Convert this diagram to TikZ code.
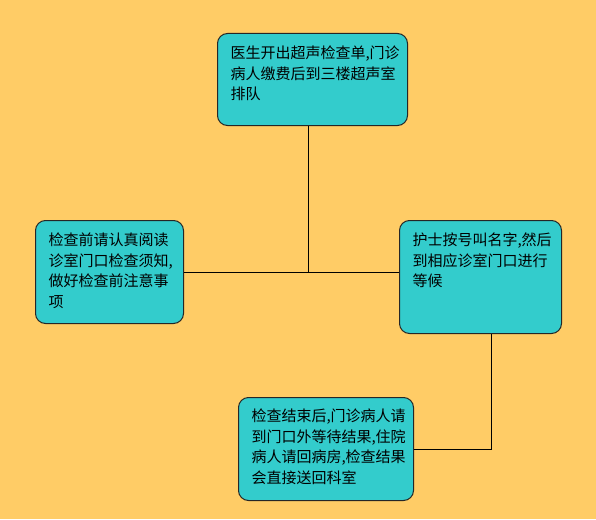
\documentclass[tikz,border=0pt]{standalone}
\usepackage{fontspec}
\newfontfamily\cjk{Noto Sans CJK SC}
\usetikzlibrary{positioning}

\definecolor{bgorange}{HTML}{FFCC66}
\definecolor{boxteal}{HTML}{33CCCC}

% step text inside a box: width, height, lines (top aligned)
\newcommand{\steptext}[3]{\parbox[c][#2][t]{#1}{\raggedright\cjk\fontsize{15pt}{20.8pt}\selectfont #3}}

\tikzset{
  stepbox/.style={draw=black!85, line width=1pt, fill=boxteal, rounded corners=10pt,
    inner xsep=13pt, inner ysep=12pt, anchor=north west},
  link/.style={draw=black, line width=1pt}
}

\begin{document}
\begin{tikzpicture}[x=1pt, y=-1pt]

  % Background
  \fill[bgorange] (0,0) rectangle (596,519);

  % Steps
  \node[stepbox] (order) at (217,33)
    {\steptext{164pt}{68pt}{医生开出超声检查单,门诊\\病人缴费后到三楼超声室\\排队}};
  \node[stepbox] (read) at (35,220)
    {\steptext{122pt}{79pt}{检查前请认真阅读\\诊室门口检查须知,\\做好检查前注意事\\项}};
  \node[stepbox] (call) at (399,220)
    {\steptext{136pt}{89pt}{护士按号叫名字,然后\\到相应诊室门口进行\\等候}};
  \node[stepbox, inner ysep=11pt] (result) at (238,397)
    {\steptext{149pt}{81pt}{检查结束后,门诊病人请\\到门口外等待结果,住院\\病人请回病房,检查结果\\会直接送回科室}};

  % Connectors
  \draw[link] (read.east) -- (read.east -| call.west);
  \draw[link] ([xshift=-4pt]order.south) -- ([xshift=-4pt]order.south |- read.east);
  \draw[link] ([xshift=11pt]call.south) |- (result.east);

\end{tikzpicture}
\end{document}
